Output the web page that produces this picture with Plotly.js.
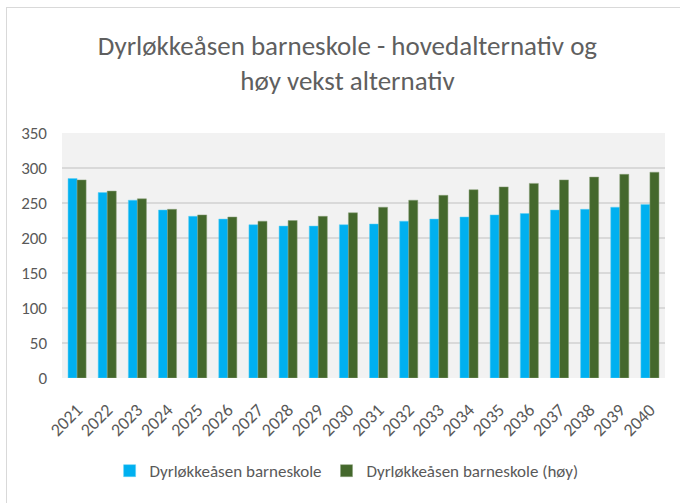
<!DOCTYPE html>
<html><head><meta charset="utf-8">
<script src="https://cdn.plot.ly/plotly-3.0.1.min.js"></script>
<style>
html,body{margin:0;padding:0;background:#fff;}
#frame{position:absolute;left:6px;top:7px;width:680px;height:503px;border:1px solid #d9d9d9;box-sizing:border-box;}
#chart{position:absolute;left:0;top:0;width:680px;height:503px;}
</style></head>
<body><div id="frame"></div><div id="chart"></div>
<script>
const years = ['2021','2022','2023','2024','2025','2026','2027','2028','2029','2030','2031','2032','2033','2034','2035','2036','2037','2038','2039','2040'];
const hoved = [285,265,254,240,231,227,219,217,217,219,220,224,227,230,233,235,240,241,244,248];
const hoy = [283,267,256,241,233,230,224,225,231,236,244,254,261,269,273,278,283,287,291,294];
const seriesNames = ['Dyrløkkeåsen barneskole','Dyrløkkeåsen barneskole (høy)'];
const FONT = "Carlito, 'Liberation Sans Narrow', 'Open Sans', sans-serif";
const data = [
  {type:'bar', x:years, y:hoved, name:seriesNames[0], marker:{color:'#00b0f0', line:{color:'#5fd0f5', width:0.5}}},
  {type:'bar', x:years, y:hoy, name:seriesNames[1], marker:{color:'#44682c', line:{color:'#8aa07a', width:0.5}}}
];
const layout = {
  width:680, height:503,
  paper_bgcolor:'rgba(0,0,0,0)', plot_bgcolor:'#f2f2f2',
  margin:{l:62, r:15, t:133, b:125},
  font:{family:FONT, color:'#595959'},
  title:{text:'Dyrløkkeåsen barneskole - hovedalternativ og<br>høy vekst alternativ', x:0.511, xanchor:'center', yref:'container', y:0.891, yanchor:'top', font:{size:27, color:'#5f5f5f', family:FONT}},
  barmode:'group', bargap:0.4, bargroupgap:0,
  xaxis:{type:'category', tickangle:-45, tickfont:{size:18, color:'#595959'}, showgrid:false, showline:false, ticks:'', ticklabelstandoff:17},
  yaxis:{range:[0,350], dtick:50, tickfont:{size:17, color:'#595959'}, gridcolor:'#d9d9d9', gridwidth:2, zeroline:false, showline:false, ticks:'', ticklabelstandoff:14},
  legend:{orientation:'h', x:0.472, xanchor:'center', y:-0.38, yanchor:'middle', font:{size:17, color:'#595959'}, traceorder:'normal'},
  showlegend:true
};
Plotly.newPlot('chart', data, layout, {displayModeBar:false, staticPlot:true});
</script></body></html>
